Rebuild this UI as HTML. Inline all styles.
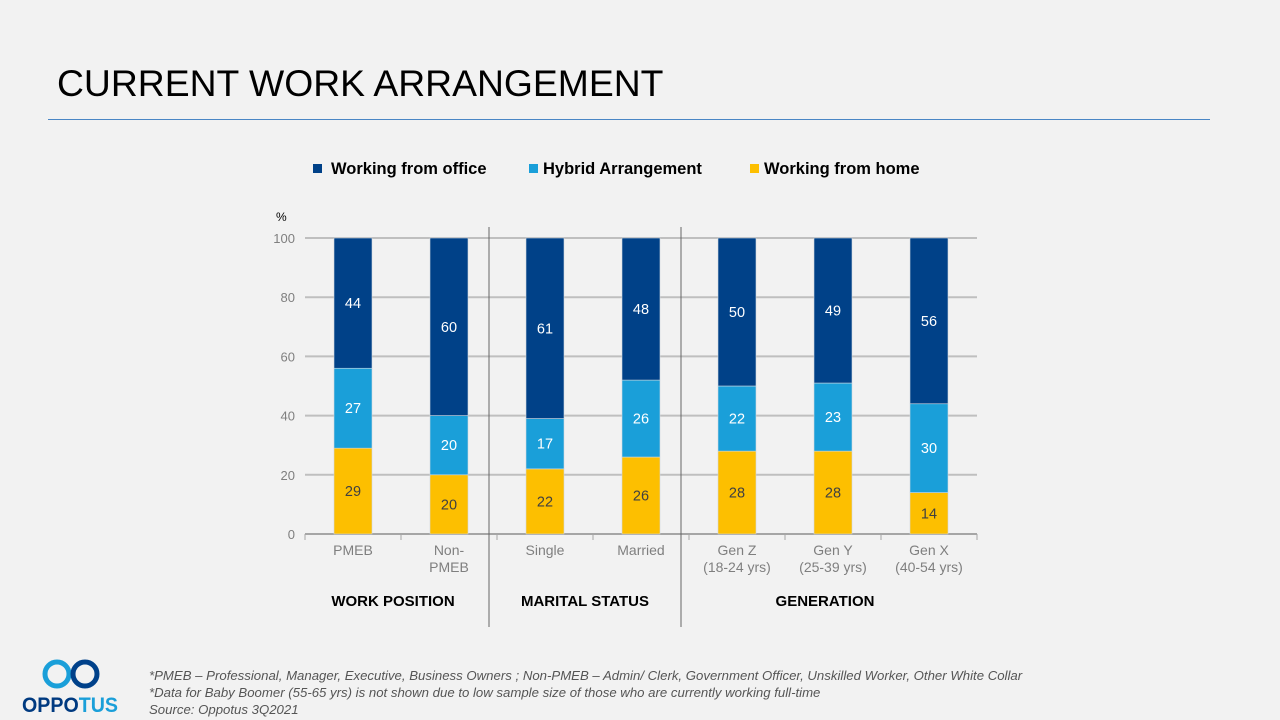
<!DOCTYPE html>
<html><head><meta charset="utf-8"><style>
body{margin:0;width:1280px;height:720px;background:#f2f2f2;font-family:"Liberation Sans",sans-serif;overflow:hidden;position:relative}
.title{position:absolute;left:57px;top:62px;font-size:37.3px;color:#000}
.rule{position:absolute;left:48px;top:119px;width:1162px;height:1px;background:#4a86c5}
.foot{position:absolute;left:149px;top:667px;font-size:13.2px;font-style:italic;color:#555;line-height:17px}
</style></head><body>
<div class="title">CURRENT WORK ARRANGEMENT</div>
<div class="rule"></div>
<svg width="1280" height="720" style="position:absolute;left:0;top:0" id="chart">
 <g font-size="16.5" font-weight="bold" fill="#000">
  <rect x="313" y="164" width="9" height="9" fill="#004188"/><text x="331" y="174">Working from office</text>
  <rect x="529" y="164" width="9" height="9" fill="#1a9fd9"/><text x="543" y="174">Hybrid Arrangement</text>
  <rect x="750" y="164" width="9" height="9" fill="#fdbf00"/><text x="764" y="174">Working from home</text>
 </g>
 <text x="276" y="221" font-size="12" fill="#000">%</text>
 <g id="grid"></g><g id="bars"></g>
 <g font-size="15" font-weight="bold" text-anchor="middle" fill="#000">
  <text x="393" y="606">WORK POSITION</text>
  <text x="585" y="606">MARITAL STATUS</text>
  <text x="825" y="606">GENERATION</text>
 </g>
 <line x1="489" y1="227" x2="489" y2="627" stroke="#666"/>
 <line x1="681" y1="227" x2="681" y2="627" stroke="#666"/>
 <g>
  <circle cx="57" cy="674" r="12" fill="none" stroke="#1a9fd9" stroke-width="5"/>
  <circle cx="85" cy="674" r="12" fill="none" stroke="#00418a" stroke-width="5"/>
  <text x="22" y="712" font-size="21" font-weight="bold" fill="#003a80" textLength="96" lengthAdjust="spacingAndGlyphs">OPPO<tspan fill="#1a9fd9">TUS</tspan></text>
 </g>
</svg>
<div class="foot">*PMEB – Professional, Manager, Executive, Business Owners ; Non-PMEB – Admin/ Clerk, Government Officer, Unskilled Worker, Other White Collar<br>*Data for Baby Boomer (55-65 yrs) is not shown due to low sample size of those who are currently working full-time<br>Source: Oppotus 3Q2021</div>
<script>
const categories=[["PMEB"],["Non-","PMEB"],["Single"],["Married"],["Gen Z","(18-24 yrs)"],["Gen Y","(25-39 yrs)"],["Gen X","(40-54 yrs)"]];
const home=[29,20,22,26,28,28,14];
const hybrid=[27,20,17,26,22,23,30];
const office=[44,60,61,48,50,49,56];
const ticks=[0,20,40,60,80,100];
const NS="http://www.w3.org/2000/svg";
const y=v=>534-v*2.96, x=i=>353+i*96;
function mk(t,a,p){const e=document.createElementNS(NS,t);for(const k in a)e.setAttribute(k,a[k]);p.appendChild(e);return e;}
const grid=document.getElementById('grid'),bars=document.getElementById('bars');
ticks.forEach(t=>{
 const l=mk('line',{x1:305,x2:977,y1:y(t),y2:y(t),stroke:t?'#bfbfbf':'#a6a6a6','stroke-width':2},grid);
 
 
 const tx=mk('text',{x:295,y:y(t)+5,'text-anchor':'end','font-size':13,fill:'#7f7f7f'},grid);tx.textContent=t;
 
 
});
for(let i=0;i<=7;i++){const tk=mk('line',{x1:305+i*96,x2:305+i*96,y1:534,y2:540,stroke:'#a6a6a6'},grid);
 
 }
const series=[[home,'#fdbf00','#404040','home'],[hybrid,'#1a9fd9','#fff','hybrid'],[office,'#004188','#fff','office']];
categories.forEach((c,i)=>{
 let base=0;
 series.forEach(([arr,col,tc,nm])=>{
  const v=arr[i];
  const r=mk('rect',{x:x(i)-19,y:y(base+v),width:38,height:y(base)-y(base+v),fill:col,stroke:'#d0d8e0','stroke-width':0.6},bars);
  
  
  const t=mk('text',{x:x(i),y:(y(base)+y(base+v))/2+5,'text-anchor':'middle','font-size':14.5,fill:tc},bars);t.textContent=v;
  
  
  base+=v;
 });
 c.forEach((s,j)=>{const t=mk('text',{x:x(i),y:555+j*17,'text-anchor':'middle','font-size':14,fill:'#7f7f7f'},bars);t.textContent=s;
  
  });
});
</script>
</body></html>
